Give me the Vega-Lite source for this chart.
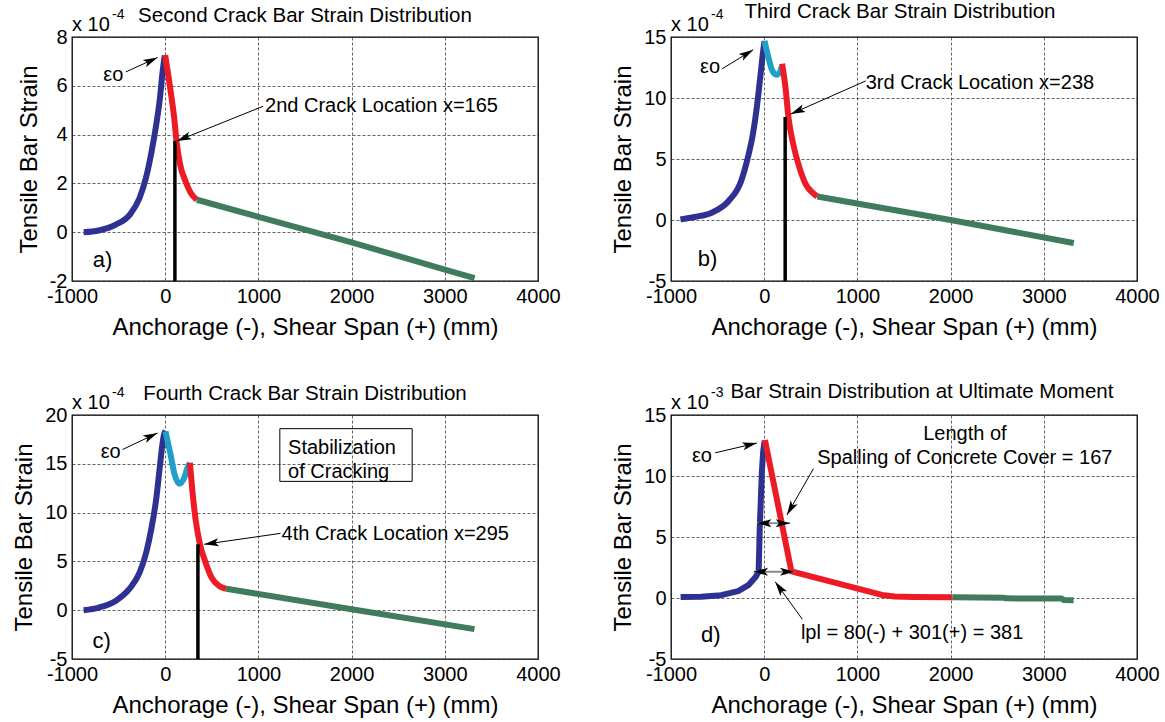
{
"$schema": "https://vega.github.io/schema/vega-lite/v6.json",
"background": "white",
"padding": {"left": 12, "top": 1, "right": 5, "bottom": 2},
"bounds": "flush",
"columns": 2,
"spacing": {"row": 134, "column": 133},
"config": {
 "font": "Liberation Sans",
 "view": {"stroke": "black", "strokeWidth": 1.3},
 "axis": {"labelFont": "Liberation Sans", "labelFontSize": 20, "labelColor": "black", "labelPadding": 5,
  "titleFont": "Liberation Sans", "titleFontSize": 24, "titleFontWeight": "normal", "titleColor": "black",
  "grid": true, "gridColor": "#222222", "gridDash": [3, 2], "gridWidth": 0.7, "gridOpacity": 1,
  "domain": false, "ticks": false, "labelOverlap": false, "labelFlush": false},
 "axisX": {"titlePadding": 9},
 "axisY": {"titlePadding": 8},
 "text": {"font": "Liberation Sans", "color": "black"}
},
"datasets": {
 "curves": [
  {"p":"a","s":"anchor","x":-875,"y":0},{"p":"a","s":"anchor","x":-713,"y":0.07},{"p":"a","s":"anchor","x":-530,"y":0.31},{"p":"a","s":"anchor","x":-379,"y":0.72},{"p":"a","s":"anchor","x":-275,"y":1.4},{"p":"a","s":"anchor","x":-207,"y":2.22},{"p":"a","s":"anchor","x":-146,"y":3.31},{"p":"a","s":"anchor","x":-97,"y":4.39},{"p":"a","s":"anchor","x":-57,"y":5.48},{"p":"a","s":"anchor","x":-28,"y":6.57},{"p":"a","s":"anchor","x":-5,"y":7.25},
  {"p":"a","s":"red","x":0,"y":7.25},{"p":"a","s":"red","x":54,"y":5.89},{"p":"a","s":"red","x":97,"y":4.67},{"p":"a","s":"red","x":122,"y":3.71},{"p":"a","s":"red","x":161,"y":2.76},{"p":"a","s":"red","x":219,"y":2.08},{"p":"a","s":"red","x":276,"y":1.6},{"p":"a","s":"red","x":340,"y":1.33},
  {"p":"a","s":"green","x":340,"y":1.33},{"p":"a","s":"green","x":1000,"y":0.63},{"p":"a","s":"green","x":2000,"y":-0.42},{"p":"a","s":"green","x":3000,"y":-1.53},{"p":"a","s":"green","x":3320,"y":-1.88},
  {"p":"b","s":"anchor","x":-899,"y":0.05},{"p":"b","s":"anchor","x":-746,"y":0.25},{"p":"b","s":"anchor","x":-564,"y":0.6},{"p":"b","s":"anchor","x":-382,"y":1.56},{"p":"b","s":"anchor","x":-247,"y":3.2},{"p":"b","s":"anchor","x":-176,"y":5.1},{"p":"b","s":"anchor","x":-122,"y":7.0},{"p":"b","s":"anchor","x":-75,"y":9.5},{"p":"b","s":"anchor","x":-43,"y":11.66},{"p":"b","s":"anchor","x":-11,"y":13.85},{"p":"b","s":"anchor","x":3,"y":14.67},
  {"p":"b","s":"loop","x":3,"y":14.67},{"p":"b","s":"loop","x":46,"y":13.3},{"p":"b","s":"loop","x":81,"y":12.35},{"p":"b","s":"loop","x":132,"y":11.9},{"p":"b","s":"loop","x":167,"y":12.1},{"p":"b","s":"loop","x":189,"y":12.6},
  {"p":"b","s":"red","x":192,"y":12.8},{"p":"b","s":"red","x":228,"y":10.88},{"p":"b","s":"red","x":260,"y":8.42},{"p":"b","s":"red","x":311,"y":6.23},{"p":"b","s":"red","x":378,"y":4.29},{"p":"b","s":"red","x":446,"y":2.92},{"p":"b","s":"red","x":518,"y":2.24},{"p":"b","s":"red","x":570,"y":1.93},
  {"p":"b","s":"green","x":570,"y":1.93},{"p":"b","s":"green","x":2000,"y":0.0},{"p":"b","s":"green","x":3322,"y":-1.89},
  {"p":"c","s":"anchor","x":-875,"y":0},{"p":"c","s":"anchor","x":-713,"y":0.27},{"p":"c","s":"anchor","x":-532,"y":0.95},{"p":"c","s":"anchor","x":-387,"y":2.15},{"p":"c","s":"anchor","x":-275,"y":3.85},{"p":"c","s":"anchor","x":-204,"y":5.9},{"p":"c","s":"anchor","x":-150,"y":8.28},{"p":"c","s":"anchor","x":-97,"y":11.35},{"p":"c","s":"anchor","x":-57,"y":14.75},{"p":"c","s":"anchor","x":-28,"y":17.14},{"p":"c","s":"anchor","x":-10,"y":18.1},{"p":"c","s":"anchor","x":3,"y":18.33},
  {"p":"c","s":"loop","x":3,"y":18.33},{"p":"c","s":"loop","x":54,"y":16.1},{"p":"c","s":"loop","x":101,"y":13.9},{"p":"c","s":"loop","x":150,"y":12.95},{"p":"c","s":"loop","x":204,"y":13.56},{"p":"c","s":"loop","x":240,"y":14.6},{"p":"c","s":"loop","x":265,"y":15.1},
  {"p":"c","s":"red","x":265,"y":15.1},{"p":"c","s":"red","x":290,"y":12.4},{"p":"c","s":"red","x":326,"y":9.3},{"p":"c","s":"red","x":373,"y":6.75},{"p":"c","s":"red","x":434,"y":4.87},{"p":"c","s":"red","x":498,"y":3.33},{"p":"c","s":"red","x":580,"y":2.48},{"p":"c","s":"red","x":652,"y":2.2},
  {"p":"c","s":"green","x":652,"y":2.2},{"p":"c","s":"green","x":2000,"y":0.1},{"p":"c","s":"green","x":3318,"y":-1.94},
  {"p":"d","s":"anchor","x":-897,"y":0.08},{"p":"d","s":"anchor","x":-679,"y":0.1},{"p":"d","s":"anchor","x":-461,"y":0.23},{"p":"d","s":"anchor","x":-279,"y":0.56},{"p":"d","s":"anchor","x":-170,"y":1.05},{"p":"d","s":"anchor","x":-90,"y":1.74},{"p":"d","s":"anchor","x":-60,"y":2.15},{"p":"d","s":"anchor","x":-55,"y":3.49},{"p":"d","s":"anchor","x":-48,"y":5.69},{"p":"d","s":"anchor","x":-37,"y":7.88},{"p":"d","s":"anchor","x":-25,"y":10.35},{"p":"d","s":"anchor","x":-11,"y":12.0},{"p":"d","s":"anchor","x":5,"y":12.9},
  {"p":"d","s":"red","x":8,"y":12.95},{"p":"d","s":"red","x":292,"y":2.18},{"p":"d","s":"red","x":1263,"y":0.25},{"p":"d","s":"red","x":1400,"y":0.12},{"p":"d","s":"red","x":1600,"y":0.08},{"p":"d","s":"red","x":2020,"y":0.06},
  {"p":"d","s":"green","x":2020,"y":0.06},{"p":"d","s":"green","x":2570,"y":0.02},{"p":"d","s":"green","x":2590,"y":-0.03},{"p":"d","s":"green","x":3190,"y":-0.04},{"p":"d","s":"green","x":3215,"y":-0.17},{"p":"d","s":"green","x":3320,"y":-0.18}
 ],
 "cracks": [
  {"p":"a","x":104,"y":3.74,"y0":-2},
  {"p":"b","x":225,"y":8.44,"y0":-5},
  {"p":"c","x":351,"y":6.75,"y0":-5}
 ],
 "boxes": [
  {"p":"c","x0":1230,"x":2650,"y0":13.2,"y":18.6}
 ],
 "arrows": [
  {"p":"a","id":"a1","kind":"single","x0":-422,"y0":6.57,"x":-82,"y":7.16},
  {"p":"a","id":"a2","kind":"single","x0":1050,"y0":5.16,"x":126,"y":3.74},
  {"p":"b","id":"b1","kind":"single","x0":-454,"y0":12.38,"x":-118,"y":13.95},
  {"p":"b","id":"b2","kind":"single","x0":1089,"y0":11.4,"x":285,"y":8.68},
  {"p":"c","id":"c1","kind":"single","x0":-458,"y0":16.46,"x":-82,"y":18.16},
  {"p":"c","id":"c2","kind":"single","x0":1237,"y0":7.87,"x":419,"y":6.75},
  {"p":"d","id":"d1","kind":"single","x0":-526,"y0":11.9,"x":-78,"y":12.7},
  {"p":"d","id":"d2","kind":"single","x0":528,"y0":10.6,"x":244,"y":6.81},
  {"p":"d","id":"d3","kind":"single","x0":409,"y0":-1.74,"x":118,"y":1.33},
  {"p":"d","id":"d4","kind":"double","x0":-78,"y0":6.13,"x":279,"y":6.13},
  {"p":"d","id":"d5","kind":"double","x0":-114,"y0":2.15,"x":326,"y":2.15}
 ],
 "texts": [
  {"p":"a","kind":"title","x":1500,"y":8,"label":"Second Crack Bar Strain Distribution"},
  {"p":"a","kind":"exp","x":-1000,"y":8,"label":"x 10"},
  {"p":"a","kind":"sup","x":-1000,"y":8,"label":"-4"},
  {"p":"a","kind":"eps","x":-556,"y":6.44,"label":"εo"},
  {"p":"a","kind":"note","x":1071,"y":5.16,"label":"2nd Crack Location x=165"},
  {"p":"a","kind":"tag","x":-673,"y":-1.14,"label":"a)"},
  {"p":"b","kind":"title","x":1457,"y":15,"label":"Third Crack Bar Strain Distribution"},
  {"p":"b","kind":"exp","x":-1000,"y":15,"label":"x 10"},
  {"p":"b","kind":"sup","x":-1000,"y":15,"label":"-4"},
  {"p":"b","kind":"eps","x":-581,"y":12.52,"label":"εo"},
  {"p":"b","kind":"note","x":1089,"y":11.2,"label":"3rd Crack Location x=238"},
  {"p":"b","kind":"tag","x":-608,"y":-3.21,"label":"b)"},
  {"p":"c","kind":"title","x":1500,"y":20,"label":"Fourth Crack Bar Strain Distribution"},
  {"p":"c","kind":"exp","x":-1000,"y":20,"label":"x 10"},
  {"p":"c","kind":"sup","x":-1000,"y":20,"label":"-4"},
  {"p":"c","kind":"eps","x":-585,"y":16.2,"label":"εo"},
  {"p":"c","kind":"note","x":1249,"y":7.77,"label":"4th Crack Location x=295"},
  {"p":"c","kind":"note","x":1318,"y":16.67,"label":"Stabilization"},
  {"p":"c","kind":"note","x":1318,"y":14.17,"label":"of Cracking"},
  {"p":"c","kind":"tag","x":-682,"y":-3.12,"label":"c)"},
  {"p":"d","kind":"title","x":1693,"y":15,"label":"Bar Strain Distribution at Ultimate Moment"},
  {"p":"d","kind":"exp","x":-1000,"y":15,"label":"x 10"},
  {"p":"d","kind":"sup","x":-1000,"y":15,"label":"-3"},
  {"p":"d","kind":"eps","x":-668,"y":11.6,"label":"εo"},
  {"p":"d","kind":"center","x":2153,"y":13.48,"label":"Length of"},
  {"p":"d","kind":"center","x":2153,"y":11.48,"label":"Spalling of Concrete Cover = 167"},
  {"p":"d","kind":"note","x":394,"y":-2.84,"label":"lpl = 80(-) + 301(+) = 381"},
  {"p":"d","kind":"tag","x":-572,"y":-3.06,"label":"d)"}
 ]
},
"concat": [
 {
  "width": 466, "height": 244,
  "encoding": {
   "x": {"field": "x", "type": "quantitative", "scale": {"domain": [-1000, 4000], "nice": false, "zero": false}, "axis": {"values": [-1000, 0, 1000, 2000, 3000, 4000], "labelExpr": "datum.value + ''", "title": "Anchorage (-), Shear Span (+) (mm)"}},
   "y": {"field": "y", "type": "quantitative", "scale": {"domain": [-2, 8], "nice": false, "zero": false}, "axis": {"values": [-2, 0, 2, 4, 6, 8], "labelExpr": "datum.value + ''", "title": "Tensile Bar Strain"}}
  },
  "layer": [
   {"data": {"name": "curves"}, "transform": [{"filter": "datum.p == 'a'"}], "mark": {"type": "line", "strokeWidth": 6, "strokeCap": "butt", "strokeJoin": "round", "interpolate": "monotone"},
    "encoding": {"color": {"field": "s", "type": "nominal", "scale": {"domain": ["anchor", "loop", "red", "green"], "range": ["#2e3191", "#1fa0c8", "#ed1c24", "#3f7b5c"]}, "legend": null}}},
   {"data": {"name": "cracks"}, "transform": [{"filter": "datum.p == 'a'"}], "mark": {"type": "rule", "color": "black", "strokeWidth": 3.5}, "encoding": {"y2": {"field": "y0"}}},
   {"data": {"name": "arrows"}, "transform": [{"filter": "datum.p == 'a'"}], "mark": {"type": "rule", "color": "black", "strokeWidth": 1}, "encoding": {"x2": {"field": "x0"}, "y2": {"field": "y0"}}},
   {"data": {"name": "arrows"}, "transform": [{"filter": "datum.id == 'a1'"}], "mark": {"type": "point", "shape": "M0,0L0.5,1.8L0,1.4L-0.5,1.8Z", "angle": 64.7, "filled": true, "size": 260, "color": "black", "opacity": 1}},
   {"data": {"name": "arrows"}, "transform": [{"filter": "datum.id == 'a2'"}], "mark": {"type": "point", "shape": "M0,0L0.5,1.8L0,1.4L-0.5,1.8Z", "angle": -111.6, "filled": true, "size": 260, "color": "black", "opacity": 1}},
   {"data": {"name": "texts"}, "transform": [{"filter": "datum.p == 'a' && datum.kind == 'title'"}], "mark": {"type": "text", "align": "center", "baseline": "middle", "fontSize": 20.5, "dy": -20.7}, "encoding": {"text": {"field": "label"}}},
   {"data": {"name": "texts"}, "transform": [{"filter": "datum.p == 'a' && datum.kind == 'note'"}], "mark": {"type": "text", "align": "left", "baseline": "middle", "fontSize": 20}, "encoding": {"text": {"field": "label"}}},
   {"data": {"name": "texts"}, "transform": [{"filter": "datum.p == 'a' && datum.kind == 'eps'"}], "mark": {"type": "text", "align": "center", "baseline": "middle", "fontSize": 20}, "encoding": {"text": {"field": "label"}}},
   {"data": {"name": "texts"}, "transform": [{"filter": "datum.p == 'a' && datum.kind == 'tag'"}], "mark": {"type": "text", "align": "center", "baseline": "middle", "fontSize": 22}, "encoding": {"text": {"field": "label"}}},
   {"data": {"name": "texts"}, "transform": [{"filter": "datum.p == 'a' && datum.kind == 'exp'"}], "mark": {"type": "text", "align": "left", "baseline": "middle", "fontSize": 20, "dy": -12}, "encoding": {"text": {"field": "label"}}},
   {"data": {"name": "texts"}, "transform": [{"filter": "datum.p == 'a' && datum.kind == 'sup'"}], "mark": {"type": "text", "align": "left", "baseline": "middle", "fontSize": 14, "dx": 40, "dy": -22}, "encoding": {"text": {"field": "label"}}}
  ]
 },
 {
  "width": 466, "height": 244,
  "encoding": {
   "x": {"field": "x", "type": "quantitative", "scale": {"domain": [-1000, 4000], "nice": false, "zero": false}, "axis": {"values": [-1000, 0, 1000, 2000, 3000, 4000], "labelExpr": "datum.value + ''", "title": "Anchorage (-), Shear Span (+) (mm)"}},
   "y": {"field": "y", "type": "quantitative", "scale": {"domain": [-5, 15], "nice": false, "zero": false}, "axis": {"values": [-5, 0, 5, 10, 15], "labelExpr": "datum.value + ''", "title": "Tensile Bar Strain"}}
  },
  "layer": [
   {"data": {"name": "curves"}, "transform": [{"filter": "datum.p == 'b'"}], "mark": {"type": "line", "strokeWidth": 6, "strokeCap": "butt", "strokeJoin": "round", "interpolate": "monotone"},
    "encoding": {"color": {"field": "s", "type": "nominal", "scale": {"domain": ["anchor", "loop", "red", "green"], "range": ["#2e3191", "#1fa0c8", "#ed1c24", "#3f7b5c"]}, "legend": null}}},
   {"data": {"name": "cracks"}, "transform": [{"filter": "datum.p == 'b'"}], "mark": {"type": "rule", "color": "black", "strokeWidth": 3.5}, "encoding": {"y2": {"field": "y0"}}},
   {"data": {"name": "arrows"}, "transform": [{"filter": "datum.p == 'b'"}], "mark": {"type": "rule", "color": "black", "strokeWidth": 1}, "encoding": {"x2": {"field": "x0"}, "y2": {"field": "y0"}}},
   {"data": {"name": "arrows"}, "transform": [{"filter": "datum.id == 'b1'"}], "mark": {"type": "point", "shape": "M0,0L0.5,1.8L0,1.4L-0.5,1.8Z", "angle": 58.8, "filled": true, "size": 260, "color": "black", "opacity": 1}},
   {"data": {"name": "arrows"}, "transform": [{"filter": "datum.id == 'b2'"}], "mark": {"type": "point", "shape": "M0,0L0.5,1.8L0,1.4L-0.5,1.8Z", "angle": -113.7, "filled": true, "size": 260, "color": "black", "opacity": 1}},
   {"data": {"name": "texts"}, "transform": [{"filter": "datum.p == 'b' && datum.kind == 'title'"}], "mark": {"type": "text", "align": "center", "baseline": "middle", "fontSize": 20.5, "dy": -25}, "encoding": {"text": {"field": "label"}}},
   {"data": {"name": "texts"}, "transform": [{"filter": "datum.p == 'b' && datum.kind == 'note'"}], "mark": {"type": "text", "align": "left", "baseline": "middle", "fontSize": 20}, "encoding": {"text": {"field": "label"}}},
   {"data": {"name": "texts"}, "transform": [{"filter": "datum.p == 'b' && datum.kind == 'eps'"}], "mark": {"type": "text", "align": "center", "baseline": "middle", "fontSize": 20}, "encoding": {"text": {"field": "label"}}},
   {"data": {"name": "texts"}, "transform": [{"filter": "datum.p == 'b' && datum.kind == 'tag'"}], "mark": {"type": "text", "align": "center", "baseline": "middle", "fontSize": 22}, "encoding": {"text": {"field": "label"}}},
   {"data": {"name": "texts"}, "transform": [{"filter": "datum.p == 'b' && datum.kind == 'exp'"}], "mark": {"type": "text", "align": "left", "baseline": "middle", "fontSize": 20, "dy": -12}, "encoding": {"text": {"field": "label"}}},
   {"data": {"name": "texts"}, "transform": [{"filter": "datum.p == 'b' && datum.kind == 'sup'"}], "mark": {"type": "text", "align": "left", "baseline": "middle", "fontSize": 14, "dx": 40, "dy": -22}, "encoding": {"text": {"field": "label"}}}
  ]
 },
 {
  "width": 466, "height": 244,
  "encoding": {
   "x": {"field": "x", "type": "quantitative", "scale": {"domain": [-1000, 4000], "nice": false, "zero": false}, "axis": {"values": [-1000, 0, 1000, 2000, 3000, 4000], "labelExpr": "datum.value + ''", "title": "Anchorage (-), Shear Span (+) (mm)"}},
   "y": {"field": "y", "type": "quantitative", "scale": {"domain": [-5, 20], "nice": false, "zero": false}, "axis": {"values": [-5, 0, 5, 10, 15, 20], "labelExpr": "datum.value + ''", "title": "Tensile Bar Strain"}}
  },
  "layer": [
   {"data": {"name": "boxes"}, "transform": [{"filter": "datum.p == 'c'"}], "mark": {"type": "rect", "fill": null, "fillOpacity": 0, "stroke": "black", "strokeWidth": 1}, "encoding": {"x2": {"field": "x0"}, "y2": {"field": "y0"}}},
   {"data": {"name": "curves"}, "transform": [{"filter": "datum.p == 'c'"}], "mark": {"type": "line", "strokeWidth": 6, "strokeCap": "butt", "strokeJoin": "round", "interpolate": "monotone"},
    "encoding": {"color": {"field": "s", "type": "nominal", "scale": {"domain": ["anchor", "loop", "red", "green"], "range": ["#2e3191", "#1fa0c8", "#ed1c24", "#3f7b5c"]}, "legend": null}}},
   {"data": {"name": "cracks"}, "transform": [{"filter": "datum.p == 'c'"}], "mark": {"type": "rule", "color": "black", "strokeWidth": 3.5}, "encoding": {"y2": {"field": "y0"}}},
   {"data": {"name": "arrows"}, "transform": [{"filter": "datum.p == 'c'"}], "mark": {"type": "rule", "color": "black", "strokeWidth": 1}, "encoding": {"x2": {"field": "x0"}, "y2": {"field": "y0"}}},
   {"data": {"name": "arrows"}, "transform": [{"filter": "datum.id == 'c1'"}], "mark": {"type": "point", "shape": "M0,0L0.5,1.8L0,1.4L-0.5,1.8Z", "angle": 64.6, "filled": true, "size": 260, "color": "black", "opacity": 1}},
   {"data": {"name": "arrows"}, "transform": [{"filter": "datum.id == 'c2'"}], "mark": {"type": "point", "shape": "M0,0L0.5,1.8L0,1.4L-0.5,1.8Z", "angle": -98.2, "filled": true, "size": 260, "color": "black", "opacity": 1}},
   {"data": {"name": "texts"}, "transform": [{"filter": "datum.p == 'c' && datum.kind == 'title'"}], "mark": {"type": "text", "align": "center", "baseline": "middle", "fontSize": 20.5, "dy": -20.8}, "encoding": {"text": {"field": "label"}}},
   {"data": {"name": "texts"}, "transform": [{"filter": "datum.p == 'c' && datum.kind == 'note'"}], "mark": {"type": "text", "align": "left", "baseline": "middle", "fontSize": 20}, "encoding": {"text": {"field": "label"}}},
   {"data": {"name": "texts"}, "transform": [{"filter": "datum.p == 'c' && datum.kind == 'eps'"}], "mark": {"type": "text", "align": "center", "baseline": "middle", "fontSize": 20}, "encoding": {"text": {"field": "label"}}},
   {"data": {"name": "texts"}, "transform": [{"filter": "datum.p == 'c' && datum.kind == 'tag'"}], "mark": {"type": "text", "align": "center", "baseline": "middle", "fontSize": 22}, "encoding": {"text": {"field": "label"}}},
   {"data": {"name": "texts"}, "transform": [{"filter": "datum.p == 'c' && datum.kind == 'exp'"}], "mark": {"type": "text", "align": "left", "baseline": "middle", "fontSize": 20, "dy": -12}, "encoding": {"text": {"field": "label"}}},
   {"data": {"name": "texts"}, "transform": [{"filter": "datum.p == 'c' && datum.kind == 'sup'"}], "mark": {"type": "text", "align": "left", "baseline": "middle", "fontSize": 14, "dx": 40, "dy": -22}, "encoding": {"text": {"field": "label"}}}
  ]
 },
 {
  "width": 466, "height": 244,
  "encoding": {
   "x": {"field": "x", "type": "quantitative", "scale": {"domain": [-1000, 4000], "nice": false, "zero": false}, "axis": {"values": [-1000, 0, 1000, 2000, 3000, 4000], "labelExpr": "datum.value + ''", "title": "Anchorage (-), Shear Span (+) (mm)"}},
   "y": {"field": "y", "type": "quantitative", "scale": {"domain": [-5, 15], "nice": false, "zero": false}, "axis": {"values": [-5, 0, 5, 10, 15], "labelExpr": "datum.value + ''", "title": "Tensile Bar Strain"}}
  },
  "layer": [
   {"data": {"name": "curves"}, "transform": [{"filter": "datum.p == 'd'"}], "mark": {"type": "line", "strokeWidth": 6, "strokeCap": "butt", "strokeJoin": "round"},
    "encoding": {"color": {"field": "s", "type": "nominal", "scale": {"domain": ["anchor", "loop", "red", "green"], "range": ["#2e3191", "#1fa0c8", "#ed1c24", "#3f7b5c"]}, "legend": null}}},
   {"data": {"name": "arrows"}, "transform": [{"filter": "datum.p == 'd' && datum.kind == 'single'"}], "mark": {"type": "rule", "color": "black", "strokeWidth": 1}, "encoding": {"x2": {"field": "x0"}, "y2": {"field": "y0"}}},
   {"data": {"name": "arrows"}, "transform": [{"filter": "datum.p == 'd' && datum.kind == 'double'"}], "mark": {"type": "rule", "color": "#8a8a8a", "strokeWidth": 1.8}, "encoding": {"x2": {"field": "x0"}, "y2": {"field": "y0"}}},
   {"data": {"name": "arrows"}, "transform": [{"filter": "datum.id == 'd1'"}], "mark": {"type": "point", "shape": "M0,0L0.5,1.8L0,1.4L-0.5,1.8Z", "angle": 76.5, "filled": true, "size": 260, "color": "black", "opacity": 1}},
   {"data": {"name": "arrows"}, "transform": [{"filter": "datum.id == 'd2'"}], "mark": {"type": "point", "shape": "M0,0L0.5,1.8L0,1.4L-0.5,1.8Z", "angle": -150.1, "filled": true, "size": 260, "color": "black", "opacity": 1}},
   {"data": {"name": "arrows"}, "transform": [{"filter": "datum.id == 'd3'"}], "mark": {"type": "point", "shape": "M0,0L0.5,1.8L0,1.4L-0.5,1.8Z", "angle": -35.9, "filled": true, "size": 260, "color": "black", "opacity": 1}},
   {"data": {"name": "arrows"}, "transform": [{"filter": "datum.kind == 'double'"}], "mark": {"type": "point", "shape": "M0,0L0.5,1.8L0,1.4L-0.5,1.8Z", "angle": 90, "filled": true, "size": 260, "color": "black", "opacity": 1}},
   {"data": {"name": "arrows"}, "transform": [{"filter": "datum.kind == 'double'"}], "mark": {"type": "point", "shape": "M0,0L0.5,1.8L0,1.4L-0.5,1.8Z", "angle": -90, "filled": true, "size": 260, "color": "black", "opacity": 1}, "encoding": {"x": {"field": "x0", "type": "quantitative"}, "y": {"field": "y0", "type": "quantitative"}}},
   {"data": {"name": "texts"}, "transform": [{"filter": "datum.p == 'd' && datum.kind == 'title'"}], "mark": {"type": "text", "align": "center", "baseline": "middle", "fontSize": 20.5, "dy": -23}, "encoding": {"text": {"field": "label"}}},
   {"data": {"name": "texts"}, "transform": [{"filter": "datum.p == 'd' && datum.kind == 'note'"}], "mark": {"type": "text", "align": "left", "baseline": "middle", "fontSize": 20}, "encoding": {"text": {"field": "label"}}},
   {"data": {"name": "texts"}, "transform": [{"filter": "datum.p == 'd' && datum.kind == 'center'"}], "mark": {"type": "text", "align": "center", "baseline": "middle", "fontSize": 20}, "encoding": {"text": {"field": "label"}}},
   {"data": {"name": "texts"}, "transform": [{"filter": "datum.p == 'd' && datum.kind == 'eps'"}], "mark": {"type": "text", "align": "center", "baseline": "middle", "fontSize": 20}, "encoding": {"text": {"field": "label"}}},
   {"data": {"name": "texts"}, "transform": [{"filter": "datum.p == 'd' && datum.kind == 'tag'"}], "mark": {"type": "text", "align": "center", "baseline": "middle", "fontSize": 22}, "encoding": {"text": {"field": "label"}}},
   {"data": {"name": "texts"}, "transform": [{"filter": "datum.p == 'd' && datum.kind == 'exp'"}], "mark": {"type": "text", "align": "left", "baseline": "middle", "fontSize": 20, "dy": -12}, "encoding": {"text": {"field": "label"}}},
   {"data": {"name": "texts"}, "transform": [{"filter": "datum.p == 'd' && datum.kind == 'sup'"}], "mark": {"type": "text", "align": "left", "baseline": "middle", "fontSize": 14, "dx": 40, "dy": -22}, "encoding": {"text": {"field": "label"}}}
  ]
 }
]
}
